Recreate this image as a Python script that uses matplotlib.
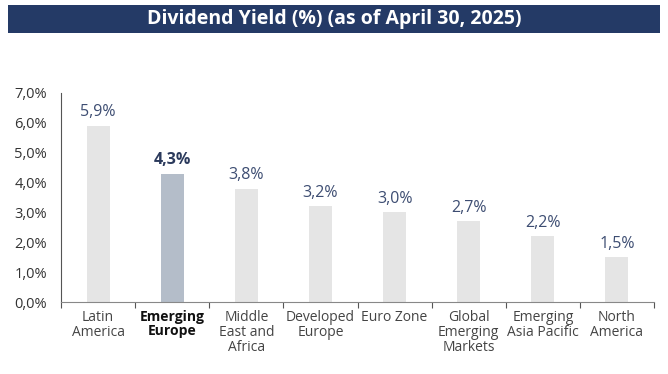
import matplotlib
matplotlib.use("Agg")
import matplotlib.pyplot as plt
from matplotlib.patches import Rectangle
import numpy as np

categories = ["Latin\nAmerica", "Emerging\nEurope", "Middle\nEast and\nAfrica", "Developed\nEurope",
              "Euro Zone", "Global\nEmerging\nMarkets", "Emerging\nAsia Pacific", "North\nAmerica"]
values = [5.9, 4.3, 3.8, 3.2, 3.0, 2.7, 2.2, 1.5]
value_labels = ["5,9%", "4,3%", "3,8%", "3,2%", "3,0%", "2,7%", "2,2%", "1,5%"]
highlight = 1
yticks = [0, 1, 2, 3, 4, 5, 6, 7]
ytick_labels = ["0,0%", "1,0%", "2,0%", "3,0%", "4,0%", "5,0%", "6,0%", "7,0%"]
title = "Dividend Yield (%) (as of April 30, 2025)"

plt.rcParams['font.family'] = ['Open Sans', 'DejaVu Sans']

fig = plt.figure(figsize=(6.68, 3.74), dpi=100)

# title bar
fig.patches.append(Rectangle((8/668, 1-33/374), (660-8)/668, 28/374, transform=fig.transFigure,
                             facecolor="#243a66", edgecolor="none"))
fig.text(0.5, 1-19/374, title, ha="center", va="center", color="white", fontsize=14, fontweight="bold")

ax = fig.add_axes([61/668, 1-302/374, (654-61)/668, (302-93)/374])
x = np.arange(len(values))
colors = ["#e5e5e5"] * len(values)
colors[highlight] = "#b4bdc9"
ax.bar(x, values, width=0.31, color=colors)
ax.set_xlim(-0.5, len(values) - 0.5)
ax.set_ylim(0, 7)
ax.set_yticks(yticks)
ax.set_yticklabels(ytick_labels, fontsize=10.5, color="#333333")
ax.tick_params(axis="y", length=0, pad=10)
ax.set_xticks(x)
ax.set_xticklabels(categories, fontsize=10, color="#444444", linespacing=1.0)
for i, lbl in enumerate(ax.get_xticklabels()):
    if i == highlight:
        lbl.set_fontweight("bold")
        lbl.set_color("#111111")
ax.tick_params(axis="x", length=0, pad=6)
ax.set_xticks(np.arange(-0.5, len(values), 1), minor=True)
ax.tick_params(axis="x", which="minor", length=4, color="#555555", width=0.8)

for s in ["top", "right"]:
    ax.spines[s].set_visible(False)
ax.spines["left"].set_color("#555555")
ax.spines["left"].set_linewidth(0.8)
ax.spines["bottom"].set_color("#888888")
ax.spines["bottom"].set_linewidth(0.8)

for i, (v, t) in enumerate(zip(values, value_labels)):
    if i == highlight:
        ax.annotate(t, (i, v), xytext=(0, 4), textcoords="offset points", ha="center", va="bottom",
                    fontsize=11.5, fontweight="bold", color="#2b3a5c")
    else:
        ax.annotate(t, (i, v), xytext=(0, 4), textcoords="offset points", ha="center", va="bottom",
                    fontsize=11.5, color="#3d4d72")

fig.savefig("out.png", dpi=100)
